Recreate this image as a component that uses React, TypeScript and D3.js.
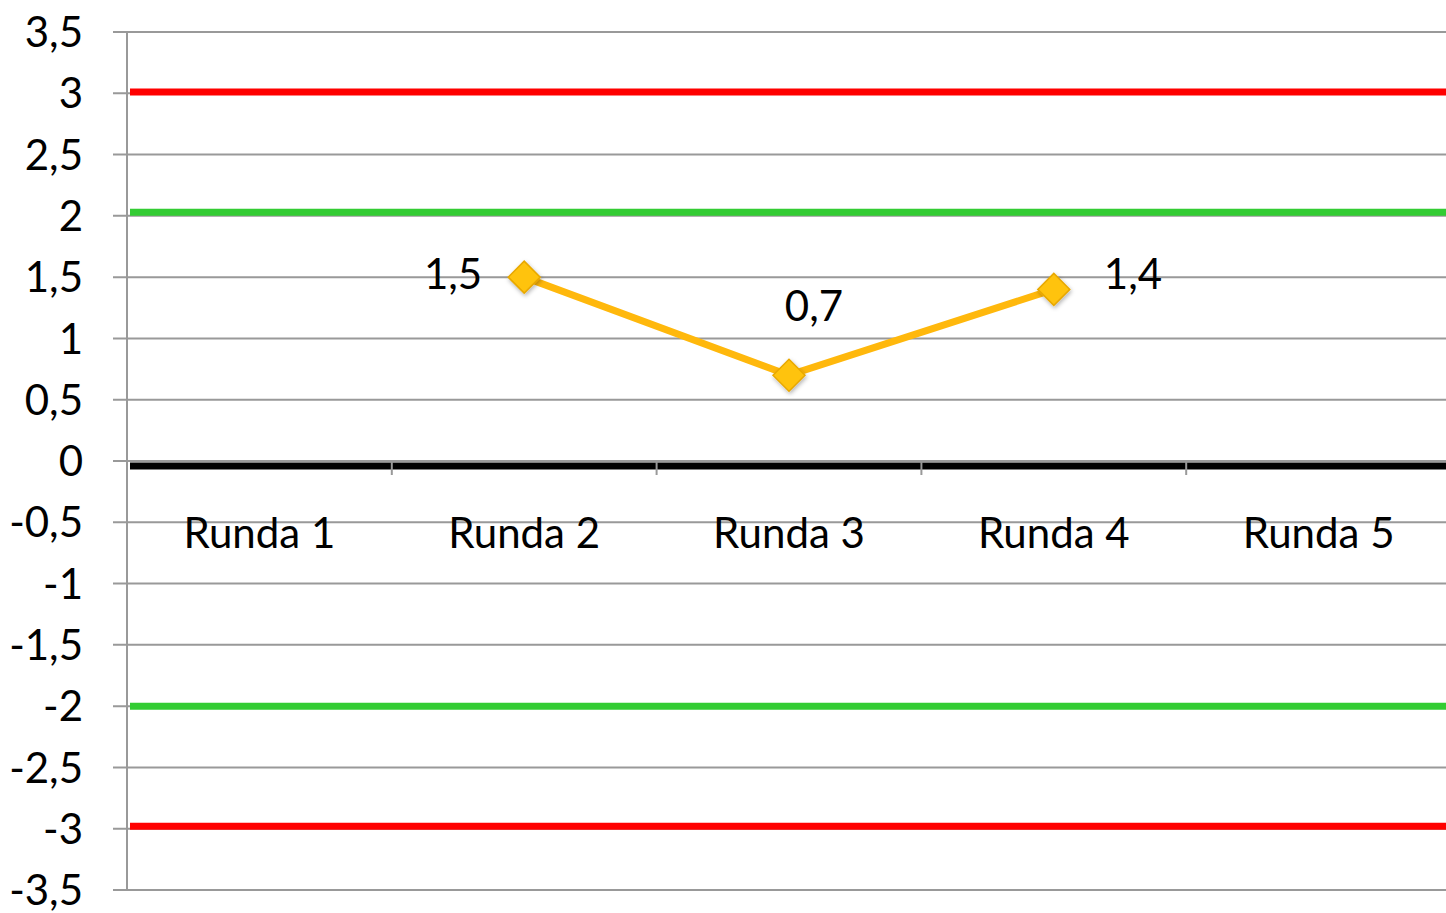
import { useEffect, useRef } from "react"
import * as d3 from 'd3'

const categories = ["Runda 1", "Runda 2", "Runda 3", "Runda 4", "Runda 5"]
const scores: (number | null)[] = [null, 1.5, 0.7, 1.4, null]
const yTicks = [-3.5, -3, -2.5, -2, -1.5, -1, -0.5, 0, 0.5, 1, 1.5, 2, 2.5, 3, 3.5]
const limitValues = [3.01, 2.03, -2, -2.98]
const limitColors = ["#ff0000", "#33cc33", "#33cc33", "#ff0000"]
const zeroLineValue = -0.04

const fmt = (v: number) => String(v).replace(".", ",")

export default function App() {
  const svgRef = useRef<SVGSVGElement>(null)

  useEffect(() => {
    d3.select(svgRef.current).selectAll('*').remove()
    if (!svgRef.current) return
    const svg = d3.select(svgRef.current)
    const width = 1446
    const margin = { top: 32, right: -5, bottom: 23, left: 127 }
    const height = 913
    const font = "Lato, 'Open Sans', sans-serif"
    const fs = 42

    const x = d3.scaleBand<string>()
      .domain(categories)
      .range([margin.left, width - margin.right])
      .padding(0)

    const y = d3.scaleLinear()
      .domain([-3.5, 3.5])
      .range([height - margin.bottom, margin.top])

    const defs = svg.append("defs")
    const shadow = defs.append("filter").attr("id", "shadow")
      .attr("x", "-50%").attr("y", "-50%").attr("width", "200%").attr("height", "200%")
    shadow.append("feDropShadow")
      .attr("dx", 1).attr("dy", 2).attr("stdDeviation", 2)
      .attr("flood-color", "#000").attr("flood-opacity", 0.3)

    // gridlines + y ticks
    svg.append("g").selectAll("line").data(yTicks).join("line")
      .attr("x1", margin.left - 14)
      .attr("x2", width)
      .attr("y1", d => y(d))
      .attr("y2", d => y(d))
      .attr("stroke", "#999")
      .attr("stroke-width", 2)

    svg.append("line")
      .attr("x1", margin.left).attr("x2", margin.left)
      .attr("y1", y(3.5)).attr("y2", y(-3.5))
      .attr("stroke", "#999").attr("stroke-width", 2)

    svg.append("g").selectAll("text").data(yTicks).join("text")
      .attr("x", 83)
      .attr("y", d => y(d))
      .attr("dy", "0.36em")
      .attr("text-anchor", "end")
      .attr("font-family", font)
      .attr("font-size", fs)
      .attr("fill", "#000")
      .text(d => fmt(d))

    // limit lines
    svg.append("g").selectAll("line").data(limitValues).join("line")
      .attr("x1", margin.left + 3)
      .attr("x2", width)
      .attr("y1", d => y(d))
      .attr("y2", d => y(d))
      .attr("stroke", (d, i) => limitColors[i])
      .attr("stroke-width", 7)

    // zero axis line
    svg.append("line")
      .attr("x1", margin.left + 3).attr("x2", width)
      .attr("y1", y(zeroLineValue)).attr("y2", y(zeroLineValue))
      .attr("stroke", "#000").attr("stroke-width", 7)

    // category tick marks
    svg.append("g").selectAll("line").data(categories.slice(1)).join("line")
      .attr("x1", d => x(d) as number)
      .attr("x2", d => x(d) as number)
      .attr("y1", y(0))
      .attr("y2", y(0) + 14)
      .attr("stroke", "#999")
      .attr("stroke-width", 2)

    svg.append("g").selectAll("text").data(categories).join("text")
      .attr("x", d => (x(d) as number) + x.bandwidth() / 2)
      .attr("y", 548)
      .attr("text-anchor", "middle")
      .attr("font-family", font)
      .attr("font-size", fs)
      .attr("fill", "#000")
      .text(d => d)

    // series
    const pts = categories.map((c, i) => ({ c, v: scores[i] })).filter(p => p.v !== null) as { c: string, v: number }[]
    const cx = (c: string) => (x(c) as number) + x.bandwidth() / 2

    const line = d3.line<{ c: string, v: number }>()
      .x(d => cx(d.c))
      .y(d => y(d.v))

    svg.append("path")
      .datum(pts)
      .attr("fill", "none")
      .attr("stroke", "#ffb80c")
      .attr("stroke-width", 7)
      .attr("stroke-linejoin", "round")
      .attr("d", line)

    svg.append("g").selectAll("path").data(pts).join("path")
      .attr("d", "M0,-16L16,0L0,16L-16,0Z")
      .attr("transform", d => `translate(${cx(d.c)},${y(d.v)})`)
      .attr("fill", "#ffc310")
      .attr("stroke", "#e8a800")
      .attr("stroke-width", 1.5)
      .attr("filter", "url(#shadow)")

    const labelOffsets = [[-42, 12, "end"], [25, -54, "middle"], [50, 0, "start"]] as const
    svg.append("g").selectAll("text").data(pts).join("text")
      .attr("x", (d, i) => cx(d.c) + labelOffsets[i][0])
      .attr("y", (d, i) => y(d.v) + labelOffsets[i][1])
      .attr("text-anchor", (d, i) => labelOffsets[i][2])
      .attr("font-family", font)
      .attr("font-size", fs)
      .attr("fill", "#000")
      .text(d => fmt(d.v))
  }, [])

  return (
    <svg ref={svgRef} width="1446" height="913" style={{ position: "absolute", left: 0, top: 0 }}></svg>
  )
}
